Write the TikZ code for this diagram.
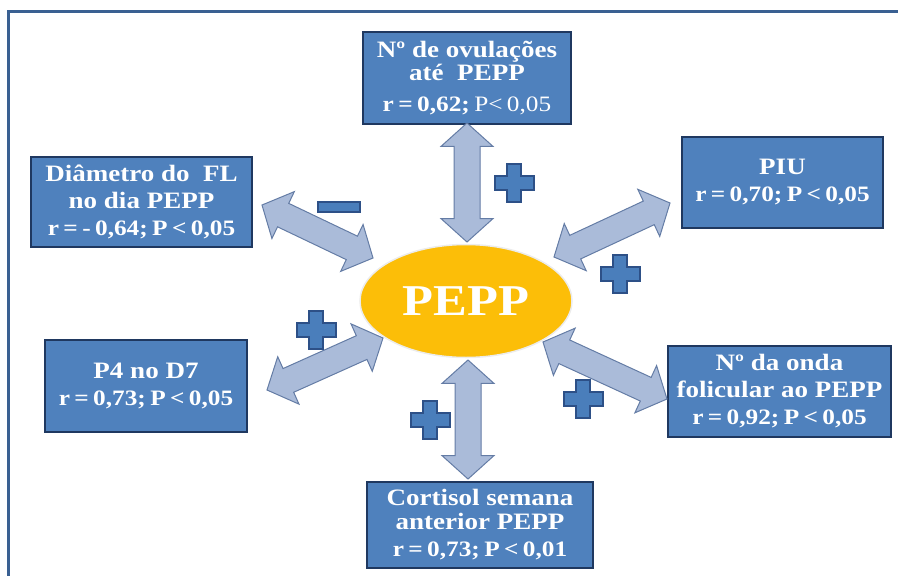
\documentclass[tikz,border=0pt]{standalone}
\usepackage{fontspec}
\setmainfont{Liberation Serif}[FakeStretch=1.15]
\usetikzlibrary{shapes.geometric, shapes.arrows, calc}

\definecolor{boxblue}{RGB}{79,129,189}
\definecolor{boxedge}{RGB}{31,56,96}
\definecolor{arrfill}{RGB}{170,187,217}
\definecolor{arredge}{RGB}{100,124,165}
\definecolor{signblue}{RGB}{74,126,187}
\definecolor{signedge}{RGB}{45,80,135}
\definecolor{peppgold}{RGB}{252,190,8}
\definecolor{framecol}{RGB}{58,96,146}

\newcommand{\linkarrow}[2]{%
    \path let \p1=($(#2)-(#1)$), \n1={atan2(\y1,\x1)}, \n2={veclen(\x1,\y1)} in
        node[linkarr, rotate=\n1, minimum height=\n2] at ($(#1)!0.5!(#2)$) {};}
\newcommand{\corrline}[1]{{\fontsize{22}{27}\selectfont\spaceskip=.2em\relax #1}}

\begin{document}
\begin{tikzpicture}[x=1pt, y=-1pt,
    factorbox/.style={draw=boxedge, line width=2.5pt, fill=boxblue, text=white,
        font=\bfseries\fontsize{23.5}{27}\selectfont, align=center, inner sep=0pt},
    linkarr/.style={double arrow, draw=arredge, line width=1pt, fill=arrfill,
        inner xsep=0pt, inner ysep=12.5pt, double arrow head extend=13pt,
        double arrow tip angle=96},
    signfill/.style={fill=signblue, draw=signedge, line width=2pt},
    pics/plussign/.style={code={
        \filldraw[signfill] (-7,-19) -- (7,-19) -- (7,-7) -- (19.5,-7) -- (19.5,7)
            -- (7,7) -- (7,19) -- (-7,19) -- (-7,7) -- (-19.5,7) -- (-19.5,-7)
            -- (-7,-7) -- cycle;}}]
    \useasboundingbox (0,0) rectangle (898,576);
    \draw[framecol, line width=3pt] (8.5,576) -- (8.5,11.3) -- (898,11.3);

    \node[ellipse, fill=peppgold, draw=white!85!gray, line width=1.5pt,
          minimum width=212pt, minimum height=113pt, text=white,
          font=\bfseries\fontsize{44}{50}\selectfont] (pepp) at (466,301) {PEPP};

    \node[factorbox, minimum width=208pt, minimum height=92pt] (ovul) at (467,78)
        {Nº de ovulações\\[-4pt]até~ PEPP\\[4pt]\corrline{r = 0,62; {\mdseries P< 0,05}}};
    \node[factorbox, minimum width=221pt, minimum height=90pt] (diam) at (141.5,202)
        {Diâmetro do~ FL\\no dia PEPP\\\corrline{r = - 0,64; P < 0,05}};
    \node[factorbox, minimum width=201pt, minimum height=91pt] (piu) at (782.5,182.5)
        {PIU\\\corrline{r = 0,70; P < 0,05}};
    \node[factorbox, minimum width=202pt, minimum height=92pt] (pfour) at (146,386)
        {P4 no D7\\\corrline{r = 0,73; P < 0,05}};
    \node[factorbox, minimum width=223pt, minimum height=91pt] (onda) at (779.5,391.5)
        {Nº da onda\\folicular ao PEPP\\\corrline{r = 0,92; P < 0,05}};
    \node[factorbox, minimum width=226pt, minimum height=86pt] (cort) at (480,525)
        {Cortisol semana\\[-3pt]anterior PEPP\\\corrline{r = 0,73; P < 0,01}};

    \coordinate (ovulA) at (467,123);
    \coordinate (ovulB) at (467,242);
    \coordinate (cortA) at (468,479);
    \coordinate (cortB) at (468,360);
    \coordinate (diamA) at (262,205);
    \coordinate (diamB) at (373,258);
    \coordinate (piuA) at (670,203);
    \coordinate (piuB) at (554,257);
    \coordinate (pfourA) at (267,390);
    \coordinate (pfourB) at (383,338);
    \coordinate (ondaA) at (667,399);
    \coordinate (ondaB) at (543,342);

    \linkarrow{ovulA}{ovulB}
    \linkarrow{cortB}{cortA}
    \linkarrow{diamA}{diamB}
    \linkarrow{piuA}{piuB}
    \linkarrow{pfourA}{pfourB}
    \linkarrow{ondaA}{ondaB}

    \pic at (514,183) {plussign};
    \pic at (620,274) {plussign};
    \pic at (316,330) {plussign};
    \pic at (583,399) {plussign};
    \pic at (430,420) {plussign};
    \filldraw[signfill] (318,202) rectangle (360,212);
\end{tikzpicture}
\end{document}
